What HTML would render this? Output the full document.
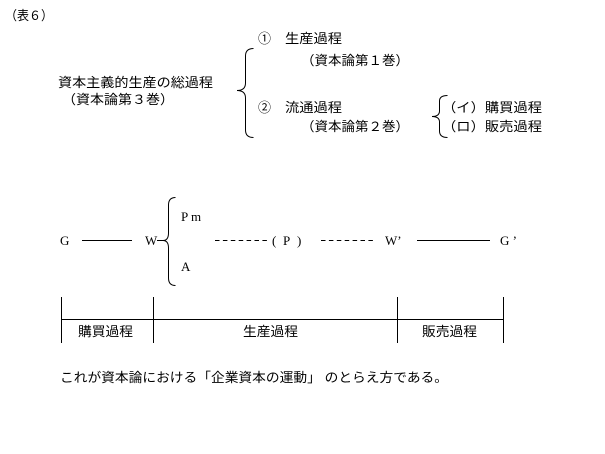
<!DOCTYPE html>
<html>
<head>
<meta charset="utf-8">
<style>
  html,body{margin:0;padding:0;background:#fff;}
  svg{display:block;}
  .j{font-family:"Liberation Sans","Noto Sans CJK JP",sans-serif;font-size:13px;fill:#000;}
  .s{font-family:"Liberation Serif","Noto Serif CJK SC",serif;font-size:13px;fill:#000;}
</style>
</head>
<body>
<svg width="605" height="454" viewBox="0 0 605 454" xmlns="http://www.w3.org/2000/svg">
  <rect width="605" height="454" fill="#fff"/>
  <g fill="none" stroke="#000" stroke-width="1">
    <!-- big brace -->
    <path d="M253.5,48.5 Q245.5,48.5 245.5,56 L245.5,83 Q245.5,90.5 237,90.5 Q245.5,90.5 245.5,98 L245.5,130 Q245.5,137.5 253.5,137.5"/>
    <!-- small brace -->
    <path d="M447.5,95.5 Q439.5,95.5 439.5,101 L439.5,111 Q439.5,116.5 432,116.5 Q439.5,116.5 439.5,122 L439.5,131 Q439.5,137.5 447.5,137.5"/>
    <!-- W brace -->
    <path d="M175.5,197.5 Q168.5,197.5 168.5,205 L168.5,233 Q168.5,240.5 163,240.5 Q168.5,240.5 168.5,248 L168.5,278 Q168.5,285.5 175.5,285.5"/>
    <line x1="157" y1="240.5" x2="163" y2="240.5"/>
    <!-- main row lines -->
    <line x1="82" y1="240.5" x2="132" y2="240.5"/>
    <line x1="417" y1="240.5" x2="490" y2="240.5"/>
    <line x1="215" y1="240.5" x2="268" y2="240.5" stroke-dasharray="4.5 3.4"/>
    <line x1="321" y1="240.5" x2="374" y2="240.5" stroke-dasharray="4.5 3.4"/>
    <!-- timeline -->
    <line x1="61.5" y1="297" x2="61.5" y2="343"/>
    <line x1="153.5" y1="297" x2="153.5" y2="343"/>
    <line x1="397.5" y1="297" x2="397.5" y2="343"/>
    <line x1="503.5" y1="297" x2="503.5" y2="343"/>
    <line x1="61.5" y1="319.5" x2="503.5" y2="319.5"/>
  </g>

  <text class="j" x="5" y="20" textLength="48" lengthAdjust="spacingAndGlyphs">（表６）</text>
  <text class="j" x="58" y="87" textLength="155" lengthAdjust="spacingAndGlyphs">資本主義的生産の総過程</text>
  <text class="j" x="62" y="104" textLength="112" lengthAdjust="spacingAndGlyphs">（資本論第３巻）</text>

  <text class="j" x="258" y="43">①</text>
  <text class="j" x="285" y="43" textLength="57" lengthAdjust="spacingAndGlyphs">生産過程</text>
  <text class="j" x="301" y="65" textLength="108" lengthAdjust="spacingAndGlyphs">（資本論第１巻）</text>
  <text class="j" x="258" y="112">②</text>
  <text class="j" x="285" y="112" textLength="57" lengthAdjust="spacingAndGlyphs">流通過程</text>
  <text class="j" x="301" y="131" textLength="108" lengthAdjust="spacingAndGlyphs">（資本論第２巻）</text>

  <text class="j" x="442" y="112" textLength="100" lengthAdjust="spacingAndGlyphs">（イ）購買過程</text>
  <text class="j" x="442" y="131" textLength="100" lengthAdjust="spacingAndGlyphs">（ロ）販売過程</text>

  <text class="s" x="60" y="245">G</text>
  <text class="s" x="145" y="245">W</text>
  <text class="s" x="181" y="221">P m</text>
  <text class="s" x="181" y="271">A</text>
  <text class="s" x="272" y="245">(</text>
  <text class="s" x="283" y="245">P</text>
  <text class="s" x="297" y="245">)</text>
  <text class="s" x="385" y="245">W’</text>
  <text class="s" x="500" y="245">G ’</text>

  <text class="j" x="78" y="336" textLength="55" lengthAdjust="spacingAndGlyphs">購買過程</text>
  <text class="j" x="243" y="336" textLength="55" lengthAdjust="spacingAndGlyphs">生産過程</text>
  <text class="j" x="422" y="336" textLength="55" lengthAdjust="spacingAndGlyphs">販売過程</text>

  <text class="j" x="60" y="382" textLength="388" lengthAdjust="spacingAndGlyphs">これが資本論における「企業資本の運動」 のとらえ方である。</text>
</svg>
</body>
</html>
